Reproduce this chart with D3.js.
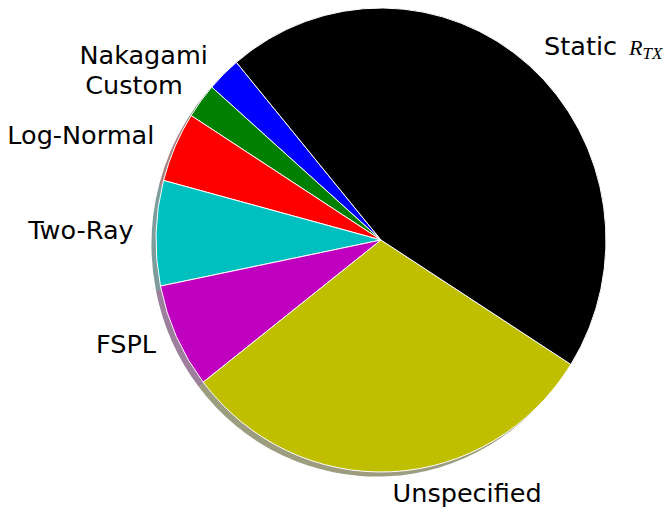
<!DOCTYPE html>
<html>
<head>
<meta charset="utf-8">
<script src="https://cdn.jsdelivr.net/npm/d3@7"></script>
<style>
  body { margin: 0; background: #fff; }
  text { font-family: "DejaVu Sans", sans-serif; font-size: 25.5px; fill: #000; }
</style>
</head>
<body>
<div class="chart"></div>
<script>
var svgWidth = 671;
var svgHeight = 512;

// slices, counter-clockwise from the start angle (matplotlib order)
var labels = ["Nakagami", "Custom", "Log-Normal", "Two-Ray", "FSPL", "Unspecified", "Static"];
var counts = [2, 2, 4, 6, 6, 25, 37];
var colors = ["#0000ff", "#008000", "#ff0000", "#00bfbf", "#bf00bf", "#bfbf00", "#000000"];

var cx = 381, cy = 240;
var rx = 225, ry = 232;   // pie is drawn slightly stretched vertically
var startDeg = 130;       // math angle (ccw from 3 o'clock) of the first slice

var svg = d3.select(".chart")
  .append("svg")
  .attr("width", svgWidth)
  .attr("height", svgHeight);

var data = labels.map((d, i) => ({ label: d, value: counts[i], color: colors[i] }));

// d3 angles run clockwise from 12 o'clock, so go negative for ccw
var a0 = (90 - startDeg) * Math.PI / 180;
var pie = d3.pie()
  .sort(null)
  .value(d => d.value)
  .startAngle(a0)
  .endAngle(a0 - 2 * Math.PI);

var arcs = pie(data);
var arc = d3.arc().innerRadius(0).outerRadius(rx);

// shadow
var shadowGroup = svg.append("g")
  .attr("transform", `translate(${cx - 4.5}, ${cy + 4.6}) scale(1, ${ry / rx})`);

shadowGroup.selectAll("path")
  .data(arcs)
  .enter()
  .append("path")
  .attr("d", arc)
  .attr("fill", d => {
    var c = d3.rgb(d.data.color);
    return d3.rgb(c.r * 0.3, c.g * 0.3, c.b * 0.3);
  })
  .attr("fill-opacity", 0.5);

// wedges
var pieGroup = svg.append("g")
  .attr("transform", `translate(${cx}, ${cy}) scale(1, ${ry / rx})`);

pieGroup.selectAll("path")
  .data(arcs)
  .enter()
  .append("path")
  .attr("d", arc)
  .attr("fill", d => d.data.color)
  .attr("stroke", "#ffffff")
  .attr("stroke-width", 1)
  .attr("vector-effect", "non-scaling-stroke")
  .attr("stroke-linejoin", "round");

// labels at 1.1 radius
var labelGroup = svg.append("g");

arcs.forEach(function(d) {
  var mid = (d.startAngle + d.endAngle) / 2;
  var lx = cx + 1.1 * rx * Math.sin(mid);
  var ly = cy - 1.1 * ry * Math.cos(mid);
  var t = labelGroup.append("text")
    .attr("x", lx)
    .attr("y", ly)
    .attr("dy", "0.26em")
    .attr("text-anchor", lx > cx ? "start" : "end");

  if (d.data.label === "Static") {
    t.append("tspan").text("Static");
    t.append("tspan")
      .attr("dx", 12)
      .style("font-family", "'Liberation Serif', 'DejaVu Serif', serif")
      .style("font-style", "italic")
      .style("font-size", "22px")
      .text("R");
    t.append("tspan")
      .style("font-family", "'Liberation Serif', 'DejaVu Serif', serif")
      .style("font-style", "italic")
      .style("font-size", "17px")
      .attr("dy", "4")
      .text("TX");
  }
  else {
    t.text(d.data.label);
  }
});
</script>
</body>
</html>
